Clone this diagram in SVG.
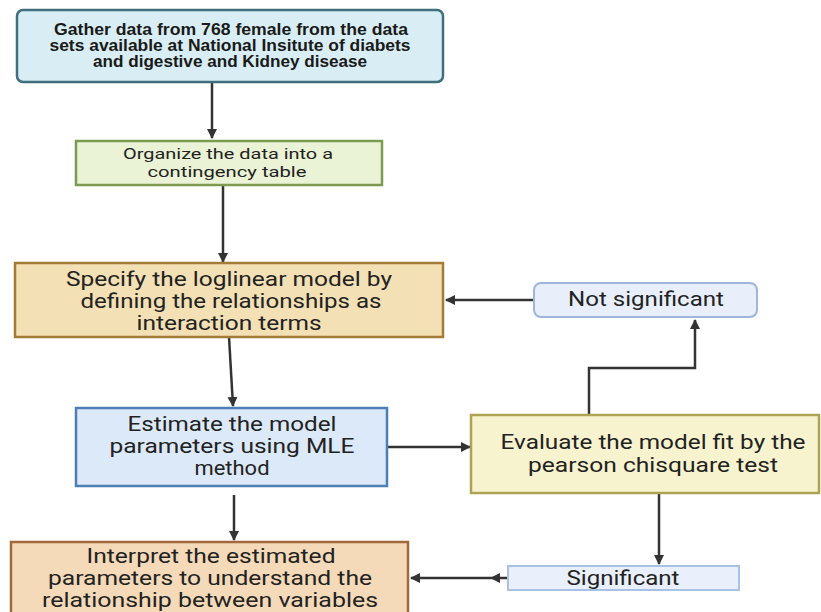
<svg xmlns="http://www.w3.org/2000/svg" width="821" height="612" viewBox="0 0 821 612">
<defs>
<marker id="ah" viewBox="0 0 10 10" refX="9" refY="5" markerWidth="10" markerHeight="10" markerUnits="userSpaceOnUse" orient="auto">
<path d="M0,0 L10,5 L0,10 Z" fill="#333"/>
</marker>
<style>
.t{font-family:Roboto,"Liberation Sans",sans-serif;fill:#222;text-anchor:middle}
.b{font-family:"Liberation Sans",Arial,sans-serif;font-weight:bold;font-size:16px;fill:#1a1a1a;text-anchor:middle}
.c{fill:none;stroke:#333;stroke-width:2.5}
</style>
</defs>
<rect width="821" height="612" fill="#fff"/>

<g id="connectors">
<path class="c" d="M212,82 L212,138" marker-end="url(#ah)"/>
<path class="c" d="M223,186 L223,262" marker-end="url(#ah)"/>
<path class="c" d="M229,337 L233,406" marker-end="url(#ah)"/>
<path class="c" d="M382,447 L470,447" marker-end="url(#ah)"/>
<path class="c" d="M589,414 L589,368 L695,368 L695,320" marker-end="url(#ah)"/>
<path class="c" d="M533,300 L446,300" marker-end="url(#ah)"/>
<path class="c" d="M659,493 L659,564" marker-end="url(#ah)"/>
<path class="c" d="M234,495 L234,540" marker-end="url(#ah)"/>
<path class="c" d="M507,578 L491,578" marker-end="url(#ah)"/>
<path class="c" d="M491,578 L411,578" marker-end="url(#ah)"/>
</g>

<g id="gather">
<rect x="17" y="10" width="426" height="72" rx="6" fill="#d9eef4" stroke="#3f6e7c" stroke-width="2.5"/>
<text class="b" x="231" y="35" textLength="354" lengthAdjust="spacingAndGlyphs">Gather data from 768 female from the data</text>
<text class="b" x="230" y="51" textLength="361" lengthAdjust="spacingAndGlyphs">sets available at National Insitute of diabets</text>
<text class="b" x="230" y="67" textLength="274" lengthAdjust="spacingAndGlyphs">and digestive and Kidney disease</text>
</g>

<g id="organize">
<rect x="76" y="141" width="306" height="44" fill="#eaf3d6" stroke="#7b9a52" stroke-width="2.5"/>
<text class="t" x="228" y="159" font-size="15" textLength="210" lengthAdjust="spacingAndGlyphs">Organize the data into a</text>
<text class="t" x="227" y="177" font-size="15" textLength="159" lengthAdjust="spacingAndGlyphs">contingency table</text>
</g>

<g id="specify">
<rect x="15" y="263" width="428" height="74" fill="#f3e0b4" stroke="#a37b3a" stroke-width="2.5"/>
<text class="t" x="229" y="286" font-size="21" textLength="326" lengthAdjust="spacingAndGlyphs">Specify the loglinear model by</text>
<text class="t" x="231" y="308" font-size="21" textLength="301" lengthAdjust="spacingAndGlyphs">defining the relationships as</text>
<text class="t" x="229" y="330" font-size="21" textLength="185" lengthAdjust="spacingAndGlyphs">interaction terms</text>
</g>

<g id="estimate">
<rect x="76" y="408" width="311" height="78" fill="#dce9f8" stroke="#4d7fb6" stroke-width="2.5"/>
<text class="t" x="232" y="431" font-size="21" textLength="209" lengthAdjust="spacingAndGlyphs">Estimate the model</text>
<text class="t" x="232" y="453" font-size="21" textLength="245" lengthAdjust="spacingAndGlyphs">parameters using MLE</text>
<text class="t" x="232" y="475" font-size="21" textLength="75" lengthAdjust="spacingAndGlyphs">method</text>
</g>

<g id="evaluate">
<rect x="471" y="415" width="348" height="78" fill="#f7f3cf" stroke="#b0a255" stroke-width="2.5"/>
<text class="t" x="653" y="449" font-size="21" textLength="305" lengthAdjust="spacingAndGlyphs">Evaluate the model fit by the</text>
<text class="t" x="653" y="472" font-size="21" textLength="250" lengthAdjust="spacingAndGlyphs">pearson chisquare test</text>
</g>

<g id="not-significant">
<rect x="534" y="283" width="223" height="34" rx="7" fill="#e8effb" stroke="#9fb6dc" stroke-width="2"/>
<text class="t" x="646" y="306" font-size="20" textLength="156" lengthAdjust="spacingAndGlyphs">Not significant</text>
</g>

<g id="significant">
<rect x="508" y="566" width="231" height="24" fill="#e9f0fb" stroke="#a9c1e4" stroke-width="2"/>
<text class="t" x="623" y="585" font-size="20" textLength="113" lengthAdjust="spacingAndGlyphs">Significant</text>
</g>

<g id="interpret">
<rect x="11" y="542" width="397" height="74" fill="#f4dab8" stroke="#a3683a" stroke-width="2.5"/>
<text class="t" x="211" y="563" font-size="21" textLength="249" lengthAdjust="spacingAndGlyphs">Interpret the estimated</text>
<text class="t" x="210" y="585" font-size="21" textLength="324" lengthAdjust="spacingAndGlyphs">parameters to understand the</text>
<text class="t" x="210" y="607" font-size="21" textLength="336" lengthAdjust="spacingAndGlyphs">relationship between variables</text>
</g>
</svg>
